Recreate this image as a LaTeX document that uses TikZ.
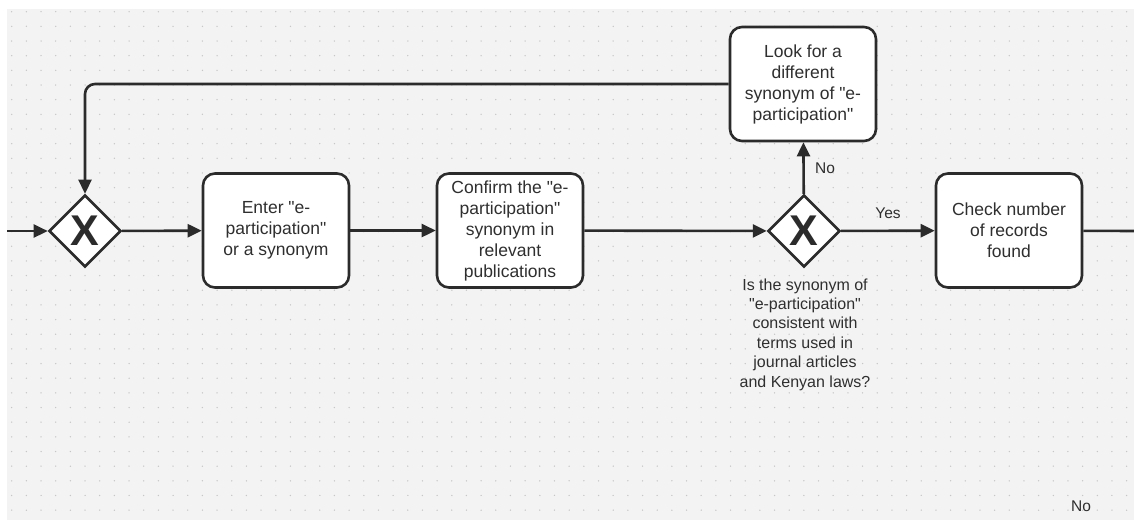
\documentclass[tikz,border=0pt]{standalone}
\usepackage{fontspec}
\setmainfont{Liberation Sans}[Ligatures=TeXOff]
\usetikzlibrary{arrows.meta,shapes.geometric}
\definecolor{canvas}{HTML}{F3F3F3}
\definecolor{griddot}{HTML}{C6C6C6}
\definecolor{ink}{HTML}{2B2B2B}
\definecolor{txt}{HTML}{2F2F2F}
\begin{document}
\begin{tikzpicture}[x=1pt,y=-1pt,
  task/.style={draw=ink, line width=2.6pt, fill=white, rounded corners=12pt,
    minimum width=146pt, minimum height=114pt, inner sep=0pt, align=center,
    text=txt, font=\fontsize{17.5}{21}\selectfont},
  gateway/.style={diamond, draw=ink, line width=2.6pt, fill=white,
    minimum width=72pt, minimum height=72pt, inner sep=0pt, text=ink,
    font=\fontsize{43}{43}\selectfont\bfseries},
  flow/.style={draw=ink, line width=2.6pt, -{Triangle[length=14pt,width=13pt]}},
  line/.style={draw=ink, line width=2.6pt},
  lbl/.style={text=txt, inner sep=0pt, align=center, font=\fontsize{15.5}{18}\selectfont},
  question/.style={text=txt, inner sep=0pt, align=center, font=\fontsize{16}{19.4}\selectfont}]

% canvas with dotted grid
\useasboundingbox (0,0) rectangle (1134,520);
\fill[white] (0,0) rectangle (1134,520);
\fill[canvas] (7,9) rectangle (1134,520);
\foreach \i in {0,...,76}
  \foreach \j in {0,...,34}
    \fill[griddot] ({11.7+14.67*\i},{11.7+14.66*\j}) circle (0.75pt);

% gateways
\node[gateway] (g1) at (85,231) {X};
\node[gateway] (g2) at (804,231) {X};

% tasks
\node[task] (t1) at (276,230.5) {Enter "e-\\participation"\\or a synonym};
\node[task] (t2) at (510,230.5) {Confirm the "e-\\participation"\\synonym in\\relevant\\publications};
\node[task] (t3) at (803,84) {Look for a\\different\\synonym of "e-\\participation"};
\node[task] (t4) at (1009,230.5) {Check number\\of records\\found};

% free ends of the sequence
\coordinate (start) at (7,231);
\coordinate (finish) at (1134,231);

% sequence flows
\draw[flow] (start) -- (g1);
\draw[flow] (g1) -- (t1);
\draw[flow] (t1) -- (t2);
\draw[flow] (t2) -- (g2);
\draw[flow] (g2) -- (t4);
\draw[flow] (g2) -- (t3);
\draw[flow, rounded corners=10pt] (t3.west) -| (g1.north);
\draw[line] (t4) -- (finish);

% labels
\node[lbl] (yes) at (888,213) {Yes};
\node[lbl] (no) at (825,168) {No};
\node[lbl] (no2) at (1081,506) {No};
\node[question] (q) at (805,334.5) {Is the synonym of\\"e-participation"\\consistent with\\terms used in\\journal articles\\and Kenyan laws?};
\end{tikzpicture}
\end{document}
